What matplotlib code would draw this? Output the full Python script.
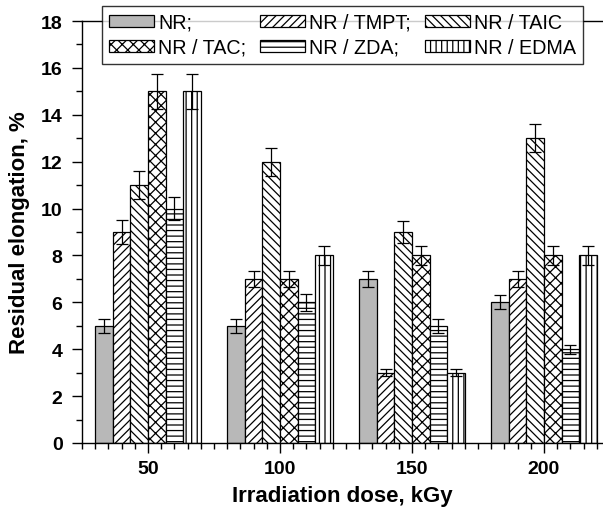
import numpy as np
import matplotlib
matplotlib.use("Agg")
import matplotlib.pyplot as plt
from matplotlib.ticker import MultipleLocator

plt.rcParams['font.family'] = ['Liberation Sans', 'DejaVu Sans']
plt.rcParams['hatch.linewidth'] = 0.9

doses = [50, 100, 150, 200]
labels = ["NR;", "NR / TMPT;", "NR / TAIC", "NR / TAC;", "NR / ZDA;", "NR / EDMA"]

nr = [5, 5, 7, 6]
tmpt = [9, 7, 3, 7]
taic = [11, 12, 9, 13]
tac = [15, 7, 8, 8]
zda = [10, 6, 5, 4]
edma = [15, 8, 3, 8]

nr_err = [0.3, 0.3, 0.35, 0.3]
tmpt_err = [0.5, 0.35, 0.15, 0.35]
taic_err = [0.6, 0.6, 0.45, 0.6]
tac_err = [0.75, 0.35, 0.4, 0.4]
zda_err = [0.5, 0.35, 0.3, 0.2]
edma_err = [0.75, 0.4, 0.15, 0.4]

series = [nr, tmpt, taic, tac, zda, edma]
errors = [nr_err, tmpt_err, taic_err, tac_err, zda_err, edma_err]
hatches = [None, '////', '\\\\\\\\', 'xxx', '---', '|||']
faces = ['#b8b8b8', 'white', 'white', 'white', 'white', 'white']

fig = plt.figure(figsize=(6.03, 5.10), dpi=100)
ax = fig.add_axes([82/603, 1 - 444/510, 520/603, 422/510])

w = 40 / 6
x = np.array(doses, dtype=float)
handles = []
for i, (vals, err) in enumerate(zip(series, errors)):
    pos = x + (i - 2.5) * w
    b = ax.bar(pos, vals, width=w, color=faces[i], edgecolor='black',
               linewidth=0.9, hatch=hatches[i], label=labels[i], zorder=2)
    ax.errorbar(pos, vals, yerr=err, fmt='none', ecolor='black',
                elinewidth=0.9, capsize=4, capthick=0.9, zorder=3)
    handles.append(b)

ax.set_xlim(25, 222)
ax.set_ylim(0, 18)
ax.set_xticks(doses)
ax.xaxis.set_minor_locator(MultipleLocator(5))
ax.yaxis.set_major_locator(MultipleLocator(2))
ax.yaxis.set_minor_locator(MultipleLocator(1))
ax.tick_params(which='major', direction='out', length=7, width=1, labelsize=14, pad=5)
ax.tick_params(axis='y', which='major', pad=7)
ax.tick_params(which='minor', direction='out', length=4, width=1)
for lab in ax.get_xticklabels() + ax.get_yticklabels():
    lab.set_fontweight('bold')
ax.spines['right'].set_visible(False)
for s in ['left', 'bottom', 'top']:
    ax.spines[s].set_linewidth(1)

ax.set_xlabel("Irradiation dose, kGy", fontsize=16, fontweight='bold', labelpad=6)
ax.set_ylabel("Residual elongation, %", fontsize=16, fontweight='bold', labelpad=8)

order = [0, 3, 1, 4, 2, 5]
leg = fig.legend([handles[k] for k in order], [labels[k] for k in order],
                 ncol=3, loc='upper left', bbox_to_anchor=(102/603, 1 - 7/510),
                 fontsize=14.2, frameon=True, fancybox=False, edgecolor='black',
                 handlelength=2.3, handleheight=0.6, handletextpad=0.2,
                 columnspacing=0.7, labelspacing=0.3, borderpad=0.35,
                 borderaxespad=0)
leg.get_frame().set_linewidth(1)

fig.savefig("out.png", dpi=100)
